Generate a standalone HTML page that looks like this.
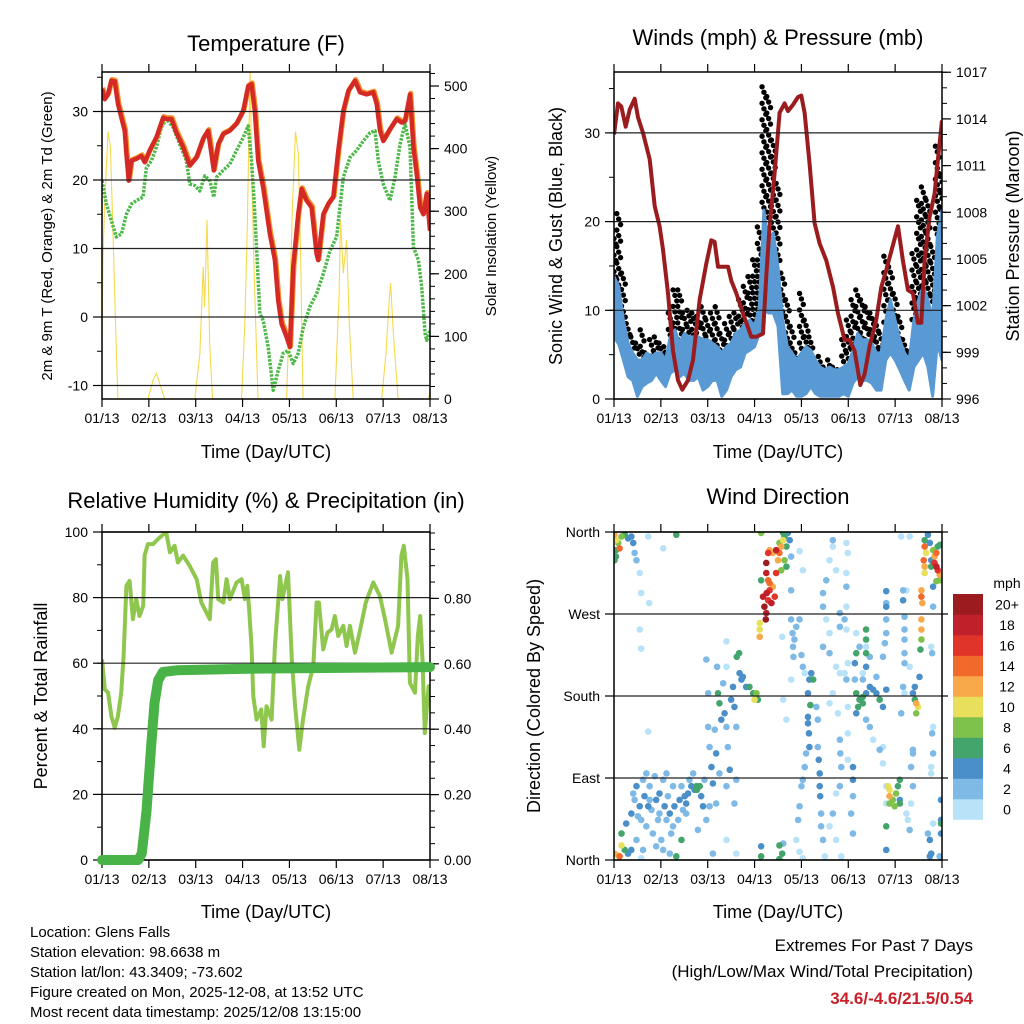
<!DOCTYPE html>
<html><head><meta charset="utf-8"><title>Glens Falls Station Meteogram</title>
<style>
html,body{margin:0;padding:0;background:#fff;}
svg{display:block;font-family:"Liberation Sans",Arial,sans-serif;}
</style></head>
<body>
<svg id="chart" xmlns="http://www.w3.org/2000/svg" width="1024" height="1024" viewBox="0 0 1024 1024">
<rect x="0" y="0" width="1024" height="1024" fill="#fff"/>
<defs>
<clipPath id="c1"><rect x="102" y="72" width="328" height="327"/></clipPath>
<clipPath id="c2"><rect x="614" y="72" width="328" height="327"/></clipPath>
<clipPath id="c3"><rect x="102" y="532" width="328" height="328"/></clipPath>
<clipPath id="c4"><rect x="614" y="532" width="328" height="328"/></clipPath>
</defs>
<g font-size="22" text-anchor="middle" fill="#000">
<text x="266" y="51">Temperature (F)</text>
<text x="778" y="45">Winds (mph) &amp; Pressure (mb)</text>
<text x="266" y="508">Relative Humidity (%) &amp; Precipitation (in)</text>
<text x="778" y="504">Wind Direction</text>
</g>
<g font-size="18" text-anchor="middle" fill="#000">
<text x="266" y="458">Time (Day/UTC)</text>
<text x="778" y="458">Time (Day/UTC)</text>
<text x="266" y="918">Time (Day/UTC)</text>
<text x="778" y="918">Time (Day/UTC)</text>
<text transform="translate(52,236) rotate(-90)" font-size="15">2m &amp; 9m T (Red, Orange) &amp; 2m Td (Green)</text>
<text transform="translate(496,236) rotate(-90)" font-size="15">Solar Insolation (Yellow)</text>
<text transform="translate(562,236) rotate(-90)">Sonic Wind &amp; Gust (Blue, Black)</text>
<text transform="translate(1019,236) rotate(-90)">Station Pressure (Maroon)</text>
<text transform="translate(47,696) rotate(-90)">Percent &amp; Total Rainfall</text>
<text transform="translate(540,696) rotate(-90)">Direction (Colored By Speed)</text>
</g>
<g font-size="15" fill="#000">
<text x="30" y="937">Location: Glens Falls</text>
<text x="30" y="957">Station elevation: 98.6638 m</text>
<text x="30" y="977">Station lat/lon: 43.3409; -73.602</text>
<text x="30" y="997">Figure created on Mon, 2025-12-08, at 13:52 UTC</text>
<text x="30" y="1017">Most recent data timestamp: 2025/12/08 13:15:00</text>
<text x="973" y="951" text-anchor="end" font-size="17">Extremes For Past 7 Days</text>
<text x="973" y="977" text-anchor="end" font-size="17">(High/Low/Max Wind/Total Precipitation)</text>
<text x="973" y="1004" text-anchor="end" font-size="17" font-weight="bold" fill="#c8202a">34.6/-4.6/21.5/0.54</text>
</g>
<g id="layer"></g>
</svg>
<script>
// ---------- Temperature panel data ----------
const tempDays = [0,0.057,0.128,0.199,0.271,0.342,0.413,0.484,0.52,0.57,0.627,0.734,0.84,0.912,1.019,1.161,1.303,1.375,1.481,1.588,1.731,1.873,2.016,2.158,2.265,2.336,2.386,2.479,2.585,2.728,2.87,3.013,3.12,3.191,3.262,3.333,3.44,3.583,3.689,3.761,3.832,3.939,4.01,4.081,4.188,4.259,4.366,4.473,4.58,4.615,4.722,4.829,4.936,5.043,5.15,5.256,5.399,5.506,5.648,5.791,5.862,5.933,6.004,6.147,6.289,6.396,6.467,6.574,6.645,6.716,6.788,6.859,6.93,7.0];
const tempVals = [33.3,31.8,32.5,34.5,34.4,31.1,29.1,27.2,23.8,19.9,22.8,23.1,23.5,22.6,24.3,26.2,29.1,28.9,28.9,26.9,24.8,22.1,23.3,26.0,27.2,23.8,21.4,25.2,26.7,27.2,28.2,30.1,33.7,34.0,30.1,22.8,18.9,12.1,8.3,2.4,-1.0,-2.9,-4.4,7.3,15.0,18.7,17.0,16.0,9.2,8.3,15.0,16.5,17.5,24.3,30.1,33.0,34.5,32.8,32.5,32.8,31.1,27.2,25.7,27.4,28.9,28.4,28.6,32.5,24.8,20.9,16.0,15.0,18.0,12.6];
const dewDays = [0,0.093,0.199,0.306,0.413,0.52,0.627,0.734,0.876,0.947,1.054,1.161,1.268,1.375,1.517,1.66,1.802,1.873,1.98,2.087,2.194,2.301,2.386,2.443,2.585,2.728,2.87,3.013,3.12,3.191,3.241,3.298,3.369,3.44,3.547,3.654,3.761,3.868,3.974,4.081,4.188,4.295,4.437,4.58,4.722,4.865,5.007,5.15,5.292,5.434,5.577,5.719,5.826,5.897,6.004,6.147,6.254,6.36,6.467,6.574,6.645,6.752,6.823,6.895,6.93,7.0];
const dewVals = [19.9,16.5,14.1,11.7,12.1,15.0,16.5,17.0,17.5,21.8,22.8,24.8,27.7,28.9,27.7,25.2,22.8,19.4,19.2,18.4,20.6,19.9,17.5,20.4,21.4,22.3,24.3,26.2,27.9,22.8,17.5,10.2,0.5,-0.5,-4.4,-10.7,-7.8,-5.3,-4.9,-6.8,-5.3,-1.5,1.5,3.4,6.3,9.7,11.7,20.4,23.3,24.3,25.7,26.9,27.2,22.8,19.4,17.0,20.4,25.2,28.2,24.8,10.2,8.3,4.4,-2.4,-3.4,-1.9];
const solarDays = [0,0.02,0.06,0.13,0.18,0.235,0.29,0.34,0.98,1.09,1.16,1.23,1.34,1.98,2.09,2.16,2.19,2.24,2.30,2.36,2.98,3.05,3.10,3.16,3.19,3.24,3.30,3.33,3.94,4.01,4.07,4.13,4.19,4.24,4.29,4.97,5.06,5.09,5.15,5.22,5.28,5.36,5.97,6.06,6.13,6.16,6.22,6.32,6.97,7.0];
const solarVals = [88,222,318,427,403,265,116,0,0,30,41,25,0,0,73,211,147,286,84,0,0,126,275,530,382,222,73,0,0,169,318,427,392,222,0,0,169,286,201,254,116,0,0,73,158,185,100,0,0,14];
const tempTicks = [-10,0,10,20,30];
const solarTicks = [0,100,200,300,400,500];
const dayLabels = ['01/13','02/13','03/13','04/13','05/13','06/13','07/13','08/13'];

// ---------- Wind panel data (0.1-day steps) ----------
const windDays = [0,0.1,0.2,0.3,0.4,0.5,0.6,0.7,0.8,0.9,1.0,1.1,1.2,1.3,1.4,1.5,1.6,1.7,1.8,1.9,2.0,2.1,2.2,2.3,2.4,2.5,2.6,2.7,2.8,2.9,3.0,3.1,3.2,3.3,3.4,3.5,3.6,3.7,3.8,3.9,4.0,4.1,4.2,4.3,4.4,4.5,4.6,4.7,4.8,4.9,5.0,5.1,5.2,5.3,5.4,5.5,5.6,5.7,5.8,5.9,6.0,6.1,6.2,6.3,6.4,6.5,6.6,6.7,6.8,6.9,7.0];
const sonicHi = [13.8,12.7,8.9,6.3,5.2,4.4,4.4,5.2,4.8,5.2,5.2,4.4,7.0,7.8,6.3,7.4,7.0,7.0,7.0,6.7,6.7,6.3,5.9,5.2,5.9,6.3,7.4,7.8,8.5,8.9,8.2,10.4,21.3,17.2,18.7,14.9,8.9,5.9,5.2,4.4,5.2,5.9,5.5,4.4,3.6,3.3,3.6,3.3,3.3,3.6,4.0,5.5,7.4,6.7,6.7,6.3,5.2,5.2,8.9,11.2,8.9,6.7,5.2,4.4,8.9,11.2,12.7,11.2,8.9,18.3,21.3];
const sonicLo = [7.0,6.2,4.4,2.5,2.1,0.3,1.4,1.8,2.1,2.9,2.1,1.4,2.9,3.3,2.5,2.9,2.1,2.1,2.5,1.0,1.4,2.1,2.1,0.3,1.0,2.5,3.3,3.6,5.2,5.5,5.9,7.4,10.0,9.7,9.7,8.2,0.6,0.6,1.0,0.3,0.3,0.6,1.4,0.6,0.3,0.3,0.3,0.3,0.3,0.6,0.3,1.8,2.5,2.1,2.1,1.8,1.0,1.0,4.4,5.2,4.4,3.3,2.1,1.0,3.6,4.4,5.2,3.6,0.3,6.3,4.4];
const gustHi = [18.7,20.9,14.2,8.5,7.0,6.3,7.8,5.2,6.7,7.0,6.3,5.9,9.7,12.3,12.3,9.7,10.0,9.7,9.3,10.4,8.9,9.7,10.4,7.4,8.5,9.3,9.7,11.2,12.7,13.8,15.7,19.4,35.2,34.1,29.2,24.3,14.2,11.2,8.2,5.2,11.9,8.9,7.0,4.4,4.8,3.6,4.4,3.6,3.3,6.7,8.9,11.2,12.3,11.2,10.4,9.7,8.9,7.4,16.1,14.9,11.9,9.3,6.7,5.2,16.4,22.4,23.9,22.4,17.2,28.5,25.1];
const presDays = [0,0.085,0.156,0.249,0.334,0.441,0.512,0.619,0.761,0.868,0.974,1.045,1.152,1.259,1.366,1.458,1.579,1.686,1.828,1.97,2.077,2.148,2.219,2.326,2.432,2.504,2.61,2.752,2.93,3.037,3.179,3.25,3.321,3.428,3.535,3.641,3.713,3.819,3.926,3.997,4.068,4.175,4.282,4.388,4.531,4.673,4.78,4.922,5.028,5.135,5.256,5.348,5.455,5.597,5.704,5.811,5.917,6.06,6.166,6.273,6.38,6.486,6.558,6.629,6.735,6.842,6.913,7.0];
const presVals = [1013.0,1015.0,1014.8,1013.5,1014.6,1015.3,1014.1,1013.1,1011.4,1008.4,1007.1,1005.6,1002.8,999.1,997.2,996.6,997.2,998.5,1002.4,1004.7,1006.2,1006.1,1004.5,1004.5,1004.5,1003.6,1002.8,1001.5,1000.0,1000.0,1000.2,1003.9,1007.1,1010.5,1014.4,1015.0,1014.5,1014.9,1015.4,1015.5,1014.4,1011.1,1007.3,1006.0,1004.9,1003.2,1001.5,999.8,999.8,999.1,996.9,997.6,999.4,1001.1,1003.2,1004.3,1005.5,1007.1,1004.9,1003.0,1002.8,1000.9,1000.9,1004.9,1007.7,1009.2,1011.4,1013.9];
const windTicks = [0,10,20,30];
const presTicks = [996,999,1002,1005,1008,1011,1014,1017];

// ---------- Humidity / precipitation data ----------
const rhDays = [0,0.06,0.13,0.2,0.27,0.34,0.41,0.46,0.52,0.59,0.66,0.73,0.8,0.88,0.91,0.98,1.09,1.2,1.37,1.45,1.55,1.62,1.73,1.87,2.02,2.12,2.23,2.3,2.37,2.43,2.48,2.59,2.66,2.73,2.87,2.98,3.05,3.1,3.14,3.19,3.23,3.3,3.4,3.45,3.51,3.62,3.69,3.8,3.85,3.97,4.05,4.12,4.21,4.29,4.4,4.51,4.58,4.63,4.72,4.81,4.9,4.97,5.04,5.15,5.22,5.29,5.4,5.51,5.63,5.79,5.93,6.04,6.18,6.32,6.39,6.44,6.52,6.57,6.68,6.74,6.79,6.84,6.89,6.97,7.0];
const rhVals = [61.2,52,51,43.8,40.3,43.8,51,62.2,83.6,85.1,73.4,79.5,74.4,77.5,92.8,96.3,96.3,97.9,100,93.8,95.8,90.7,92.8,89.7,85.6,78.5,75.4,73.4,90.7,91.7,79.5,78.5,85.6,79.5,84.6,85.6,79.5,83.6,76.5,65.2,49.9,42.8,45.9,34.7,46.9,42.8,65.2,86.6,79.5,87.7,61.2,46.9,33.6,42.8,53.0,59.1,78.5,78.5,64.2,69.3,70.3,74.4,68.3,71.4,65.2,71.4,63.2,70.3,78.5,84.6,80.5,73.4,63.2,71.4,92.8,95.8,85.6,54.0,51.0,68.3,74.4,61.2,38.7,53,51];
const precipDays = [0,0.77,0.85,0.95,1.05,1.12,1.2,1.3,1.6,3.1,7.0];
const precipVals = [0,0,0.02,0.15,0.35,0.48,0.55,0.575,0.58,0.585,0.59];
const rhTicks = [0,20,40,60,80,100];
const precipTicks = [0,0.2,0.4,0.6,0.8];

// ---------- Wind direction data ----------
const dirDay = [
0.01,0.05,0.09,0.04,0.12,0.16,0.23,0.30,0.37,0.41,0.44,0.48,0.55,0.58,0.75,0.55,0.58,0.73,1.05,1.33,0.04,0.01,
0.01,0.09,0.16,0.12,0.23,0.30,0.37,0.16,0.26,0.58,
0.37,0.44,0.48,0.55,0.58,0.62,0.65,0.69,0.73,0.76,0.80,0.83,0.87,0.90,0.94,0.97,1.01,1.05,1.08,1.12,1.15,1.19,1.22,1.26,1.29,1.33,1.37,1.40,1.44,1.47,1.51,1.54,1.58,1.61,1.65,1.69,1.72,1.76,1.83,1.86,1.90,1.93,1.97,2.04,2.11,1.79,0.90,1.05,0.48,0.62,1.19,0.76,0.97,1.26,1.54,0.41,0.51,0.69,1.12,1.44,1.77,
1.97,2.01,2.01,2.04,2.08,2.11,2.15,2.18,2.20,2.22,2.25,2.29,2.33,2.36,2.40,2.43,2.47,2.50,2.54,2.57,2.61,2.62,2.67,2.68,2.72,2.75,2.82,2.89,2.97,3.00,3.04,3.07,2.61,2.57,2.40,2.18,2.25,0.73,2.40,2.40,2.40,2.61,
3.14,3.11,3.11,3.11,3.18,3.21,3.25,3.24,3.26,3.29,3.32,3.36,3.39,3.43,3.32,3.29,3.25,3.29,3.32,3.25,3.46,3.50,3.53,3.57,3.61,3.64,3.68,3.64,3.68,3.53,3.61,3.46,3.39,3.14,3.71,3.75,3.78,3.78,3.57,3.14,3.14,3.53,3.59,3.53,3.61,
3.78,3.81,3.82,3.83,3.85,3.89,3.96,4.00,3.96,4.03,3.59,3.78,3.61,3.68,4.03,4.07,4.14,4.17,4.21,4.25,4.19,4.14,4.16,4.17,4.14,4.10,4.07,4.03,4.00,3.96,3.93,3.89,3.96,4.03,4.32,4.35,4.35,4.37,4.39,4.39,4.40,4.42,4.42,4.46,4.50,4.53,4.46,4.46,4.53,4.60,4.46,4.60,4.60,4.67,4.67,4.74,4.82,4.82,4.74,4.82,4.67,4.60,4.78,4.82,4.83,4.85,4.82,4.74,4.67,4.60,4.74,4.85,4.96,4.99,4.96,4.96,4.96,4.92,4.96,4.99,4.92,4.96,4.99,4.99,4.99,
5.38,5.38,5.38,5.38,5.17,5.24,5.31,5.21,5.31,5.38,5.46,5.53,5.60,5.67,5.74,5.81,5.17,5.14,5.14,5.17,5.10,5.10,5.10,5.06,5.10,5.31,5.38,5.46,5.60,5.74,5.78,5.81,5.81,5.81,5.81,5.81,5.24,5.17,5.38,5.46,5.31,5.53,5.67,5.74,5.74,5.81,5.81,5.81,5.81,
5.85,5.88,5.88,5.95,6.02,6.06,6.10,6.10,6.10,5.99,5.88,
6.13,6.31,6.17,6.24,6.17,6.20,6.20,6.20,6.20,6.20,6.17,6.13,6.20,6.31,6.38,6.42,6.45,6.49,6.45,6.42,6.52,6.56,6.56,6.56,6.56,6.58,6.56,6.54,6.38,6.38,6.34,6.38,6.31,6.34,6.24,6.27,6.70,6.74,6.77,6.74,6.81,6.77,6.77,6.81,6.79,6.81,6.79,6.77,6.81,6.81,6.77,6.84,6.88,6.91,6.95,6.88,6.84,6.81,6.91,6.96,6.63,6.63,6.66,6.61,6.63,6.63,6.74,6.70,6.77,6.95,6.88,6.98,6.98,6.98,6.95,6.98];
const dirDeg = [
357,351,348,340,342,355,357,353,355,348,337,329,315,293,282,253,232,355,342,357,333,329,
7,5,16,4,11,7,11,29,40,2,
51,66,81,59,44,88,70,37,59,81,55,29,92,66,44,73,22,88,59,44,70,51,29,81,59,4,44,66,22,55,70,62,73,88,81,95,77,81,81,70,59,88,44,59,7,33,15,11,22,11,7,66,51,37,51,73,48,95,95,81,77,
220,183,146,124,102,84,143,117,212,183,172,154,194,161,146,124,99,176,190,168,146,223,227,205,198,201,190,190,183,176,183,176,88,62,81,62,95,141,240,212,22,7,
359,253,245,260,289,278,271,264,293,285,296,282,300,289,304,307,326,337,340,315,315,329,337,344,351,355,344,329,322,348,359,340,337,307,359,351,333,296,318,4,15,16,7,1,18,
264,249,234,223,242,256,264,225,339,318,245,198,176,154,212,205,183,198,205,198,170,150,139,124,157,117,102,88,81,59,44,22,9,2,168,154,124,110,95,81,70,51,37,22,4,307,293,278,264,249,234,227,329,344,351,318,271,256,212,205,183,172,161,132,117,102,81,73,51,37,22,4,348,337,315,300,278,264,253,216,205,198,168,139,110,
253,242,227,212,183,176,179,168,172,183,190,187,183,176,168,187,161,198,216,227,102,88,70,51,29,198,154,146,201,223,238,249,264,278,295,282,234,249,234,223,205,132,121,124,106,81,62,37,11,
81,70,62,66,73,81,88,62,66,59,77,
355,355,296,296,285,267,253,242,227,216,190,161,183,212,183,176,172,168,161,190,201,264,253,296,289,282,242,231,117,121,102,81,33,62,51,44,29,22,7,4,40,102,95,117,139,146,227,234,278,300,322,326,322,318,313,337,333,340,344,346,351,344,337,329,322,315,348,357,329,307,306,44,29,66,4,40];
const dirSpd = [
12,10,8,6,14,8,6,5,4,4,3,2,1,1,1,1,1,1,1,7,6,7,
12,10,10,14,6,5,4,7,4,1,
4,3,4,4,3,3,4,2,4,3,3,2,3,4,3,4,2,3,4,3,3,4,3,3,4,7,3,4,6,3,4,4,4,3,5,3,4,6,6,5,4,3,3,2,2,2,3,2,3,2,2,3,2,2,3,2,2,3,2,2,6,
2,3,2,3,4,4,3,4,3,6,6,4,3,4,3,3,4,4,4,4,3,6,7,4,4,5,4,6,7,10,8,6,3,3,3,2,3,1,1,1,1,1,
8,10,12,10,19,20,18,20,18,17,16,18,13,16,14,14,20,16,12,18,16,12,14,12,10,7,6,8,6,8,7,18,12,7,4,4,3,2,8,6,4,7,7,6,3,
2,3,3,3,2,2,2,2,1,1,1,1,1,1,2,1,4,5,4,6,7,5,5,4,4,3,2,2,3,2,2,1,1,1,3,3,3,4,4,4,4,3,3,2,1,2,2,2,1,1,3,2,1,1,2,1,2,3,1,1,1,1,1,3,3,2,2,1,2,1,1,1,1,1,1,2,1,2,1,1,1,2,1,1,1,
6,6,6,4,6,6,6,6,6,4,4,4,4,6,4,4,4,3,4,6,4,4,3,2,2,3,3,2,3,3,2,3,3,4,4,3,2,1,1,2,1,1,2,1,1,1,1,7,4,
10,12,8,8,8,6,6,6,5,8,11,
1,1,2,1,4,3,3,3,3,2,2,3,1,1,4,6,12,10,8,4,4,12,13,13,14,12,8,6,3,2,2,2,2,1,1,1,3,4,4,4,1,1,1,2,2,1,3,1,2,4,6,16,18,16,12,14,12,8,6,7,7,14,10,14,13,10,4,4,4,9,8,4,4,4,2,6];
const dirTickDeg = [0,90,180,270,360];
const dirTickNames = ['North','East','South','West','North'];
const speedBins = ['0','2','4','6','8','10','12','14','16','18','20+'];
const speedColors = ['#b8e2f8','#7fb9e6','#4a8fc8','#44a56c','#7fc24b','#e8e05a','#f8a94a','#f26a2b','#e0342b','#c0202a','#9b1b1e'];

// ---------- drawing ----------
const NS = 'http://www.w3.org/2000/svg';
const layer = document.getElementById('layer');
function mk(parent, tag, attrs) {
  const e = document.createElementNS(NS, tag);
  for (const k in attrs) e.setAttribute(k, attrs[k]);
  parent.appendChild(e);
  return e;
}
function xScale(p) { return d => p.x0 + d * (p.x1 - p.x0) / 7; }
const P1 = {x0:102, x1:430, y0:72, y1:399};
const P2 = {x0:614, x1:942, y0:72, y1:399};
const P3 = {x0:102, x1:430, y0:532, y1:860};
const P4 = {x0:614, x1:942, y0:532, y1:860};
const x1s = xScale(P1), x2s = xScale(P2), x3s = xScale(P3), x4s = xScale(P4);
const tY = v => 317 - v * 6.85;
const sY = v => 399 - v * 0.626;
const wY = v => 399 - v * 8.87;
const pY = v => 399 - (v - 996) * 15.56;
const rhY = v => 860 - v * 3.28;
const prY = v => 860 - v * 327;
const dY = v => 860 - v * 328 / 360;

function pathFrom(xs, ys, xf, yf) {
  let s = '';
  for (let i = 0; i < Math.min(xs.length, ys.length); i++) s += (i ? 'L' : 'M') + xf(xs[i]).toFixed(1) + ',' + yf(ys[i]).toFixed(1);
  return s;
}

function frame(p, name, clip) {
  const g = mk(layer, 'g', {});
  
  
  const inner = mk(g, 'g', {'clip-path': 'url(#' + clip + ')'});
  return {g, inner};
}
function gridH(g, p, ys, name) {
  ys.forEach(y => {
    const l = mk(g, 'line', {x1:p.x0, x2:p.x1, y1:y, y2:y, stroke:'#222', 'stroke-width':1.2});
    
    
  });
}
function border(g, p) {
  const r = mk(g, 'rect', {x:p.x0, y:p.y0, width:p.x1-p.x0, height:p.y1-p.y0, fill:'none', stroke:'#000', 'stroke-width':1.5});
  
  
}
function xAxis(g, p, xf) {
  for (let d = 0; d <= 7; d++) {
    const x = xf(d);
    mk(g, 'line', {x1:x, x2:x, y1:p.y0-8, y2:p.y0, stroke:'#000', 'stroke-width':1.2});
    mk(g, 'line', {x1:x, x2:x, y1:p.y1, y2:p.y1+8, stroke:'#000', 'stroke-width':1.2});
    const t = mk(g, 'text', {x:x, y:p.y1+24, 'text-anchor':'middle', 'font-size':14});
    t.textContent = dayLabels[d];
    
    
  }
}
function yAxis(g, p, ticks, yf, side, fmt, minorStep) {
  const xe = side === 'left' ? p.x0 : p.x1;
  const dir = side === 'left' ? -1 : 1;
  const lo = ticks[0], hi = ticks[ticks.length - 1];
  if (minorStep) {
    for (let v = lo - minorStep * 10; v <= hi + minorStep * 10 + 1e-9; v += minorStep) {
      const y = yf(v);
      if (y < p.y0 - 0.5 || y > p.y1 + 0.5) continue;
      mk(g, 'line', {x1:xe, x2:xe + dir * 5, y1:y, y2:y, stroke:'#000', 'stroke-width':1});
    }
  }
  ticks.forEach(v => {
    const y = yf(v);
    mk(g, 'line', {x1:xe, x2:xe + dir * 9, y1:y, y2:y, stroke:'#000', 'stroke-width':1.2});
    const t = mk(g, 'text', {x:xe + dir * 14, y:y + 5, 'text-anchor': side === 'left' ? 'end' : 'start', 'font-size':14});
    t.textContent = fmt(v);
    
    
  });
}

// Panel 1: temperature
(function () {
  const f = frame(P1, 'temperature-panel', 'c1');
  gridH(f.g, P1, tempTicks.map(tY), 'temperature-gridline');
  const sol = mk(f.inner, 'path', {d: pathFrom(solarDays, solarVals, x1s, sY), fill:'none', stroke:'#f6d94c', 'stroke-width':1.1});
  
  
  const dew = mk(f.inner, 'path', {d: pathFrom(dewDays, dewVals, x1s, tY), fill:'none', stroke:'#4cb848', 'stroke-width':3.5, 'stroke-dasharray':'2.5,1.3', 'stroke-linejoin':'round'});
  
  
  const or = mk(f.inner, 'path', {d: pathFrom(tempDays, tempVals, x1s, tY), fill:'none', stroke:'#f5922a', 'stroke-width':5, 'stroke-linejoin':'round', transform:'translate(0.8,-1.2)'});
  
  
  const red = mk(f.inner, 'path', {d: pathFrom(tempDays, tempVals, x1s, tY), fill:'none', stroke:'#d42a26', 'stroke-width':4.5, 'stroke-linejoin':'round'});
  
  
  border(f.g, P1);
  xAxis(f.g, P1, x1s);
  yAxis(f.g, P1, tempTicks, tY, 'left', v => String(v), 5);
  yAxis(f.g, P1, solarTicks, sY, 'right', v => String(v), 20);
})();

// Panel 2: winds & pressure
(function () {
  const f = frame(P2, 'winds-panel', 'c2');
  gridH(f.g, P2, windTicks.map(wY), 'wind-gridline');
  const dots = mk(f.inner, 'g', {fill:'#000'});
  
  
  const step = (x2s(0.1) - x2s(0)) / 2;
  for (let i = 0; i < windDays.length; i++) {
    const x = x2s(windDays[i]);
    const yTop = wY(gustHi[i]), yBot = wY(sonicHi[i]) + 3;
    let k = 0;
    for (let y = yTop; y <= yBot; y += 5.5) {
      const c = mk(dots, 'circle', {cx: x + ((k % 3) - 1) * step * 0.8, cy: y, r: 2.7});
      
      
      k++;
    }
  }
  let d = '';
  for (let i = 0; i < windDays.length; i++) d += (i ? 'L' : 'M') + x2s(windDays[i]).toFixed(1) + ',' + wY(sonicHi[i]).toFixed(1);
  for (let i = windDays.length - 1; i >= 0; i--) d += 'L' + x2s(windDays[i]).toFixed(1) + ',' + wY(sonicLo[i]).toFixed(1);
  const band = mk(f.inner, 'path', {d: d + 'Z', fill:'#5a9ad4', stroke:'#5a9ad4', 'stroke-width':3, 'stroke-linejoin':'round'});
  
  
  const pr = mk(f.inner, 'path', {d: pathFrom(presDays, presVals, x2s, pY), fill:'none', stroke:'#9b1c1f', 'stroke-width':4, 'stroke-linejoin':'round'});
  
  
  border(f.g, P2);
  xAxis(f.g, P2, x2s);
  yAxis(f.g, P2, windTicks, wY, 'left', v => String(v), 5);
  yAxis(f.g, P2, presTicks, pY, 'right', v => String(v), 1);
})();

// Panel 3: humidity & precipitation
(function () {
  const f = frame(P3, 'humidity-panel', 'c3');
  gridH(f.g, P3, rhTicks.map(rhY), 'humidity-gridline');
  const rh = mk(f.inner, 'path', {d: pathFrom(rhDays, rhVals, x3s, rhY), fill:'none', stroke:'#8fc74e', 'stroke-width':4, 'stroke-linejoin':'round'});
  
  
  const pr = mk(layer, 'path', {d: pathFrom(precipDays, precipVals, x3s, prY), fill:'none', stroke:'#4ab348', 'stroke-width':10, 'stroke-linejoin':'round', 'stroke-linecap':'round'});
  
  
  border(f.g, P3);
  xAxis(f.g, P3, x3s);
  yAxis(f.g, P3, rhTicks, rhY, 'left', v => String(v), 10);
  yAxis(f.g, P3, precipTicks, prY, 'right', v => v.toFixed(2), 0.05);
})();

// Panel 4: wind direction
(function () {
  const f = frame(P4, 'wind-direction-panel', 'c4');
  gridH(f.g, P4, dirTickDeg.map(dY), 'direction-gridline');
  const n = Math.min(dirDay.length, dirDeg.length, dirSpd.length);
  const idx = [];
  for (let i = 0; i < n; i++) idx.push(i);
  idx.sort((a, b) => dirSpd[a] - dirSpd[b]);
  const g = mk(f.inner, 'g', {});
  
  
  idx.forEach(i => {
    const bin = Math.min(10, Math.floor(dirSpd[i] / 2));
    const c = mk(g, 'circle', {cx: x4s(dirDay[i]), cy: dY(dirDeg[i]), r: 3.3, fill: speedColors[bin]});
    
    
  });
  border(f.g, P4);
  xAxis(f.g, P4, x4s);
  dirTickDeg.forEach((v, i) => {
    const y = dY(v);
    mk(f.g, 'line', {x1:P4.x0 - 9, x2:P4.x0, y1:y, y2:y, stroke:'#000', 'stroke-width':1.2});
    mk(f.g, 'line', {x1:P4.x1, x2:P4.x1 + 6, y1:y, y2:y, stroke:'#000', 'stroke-width':1.2});
    const t = mk(f.g, 'text', {x:P4.x0 - 14, y:y + 5, 'text-anchor':'end', 'font-size':14});
    t.textContent = dirTickNames[i];
    
    
  });
  // colour bar legend
  const lg = mk(layer, 'g', {});
  
  
  const unit = mk(lg, 'text', {x:1007, y:588, 'text-anchor':'middle', 'font-size':14});
  unit.textContent = 'mph';
  
  
  const bh = 20.5;
  for (let k = 0; k < speedBins.length; k++) {
    const y = 594 + (speedBins.length - 1 - k) * bh;
    const r = mk(lg, 'rect', {x:953, y:y, width:30, height:bh + 0.3, fill:speedColors[k]});
    
    
    const t = mk(lg, 'text', {x:1007, y:y + bh / 2 + 5, 'text-anchor':'middle', 'font-size':14});
    t.textContent = speedBins[k];
    
    
  }
})();
</script>
</body></html>
